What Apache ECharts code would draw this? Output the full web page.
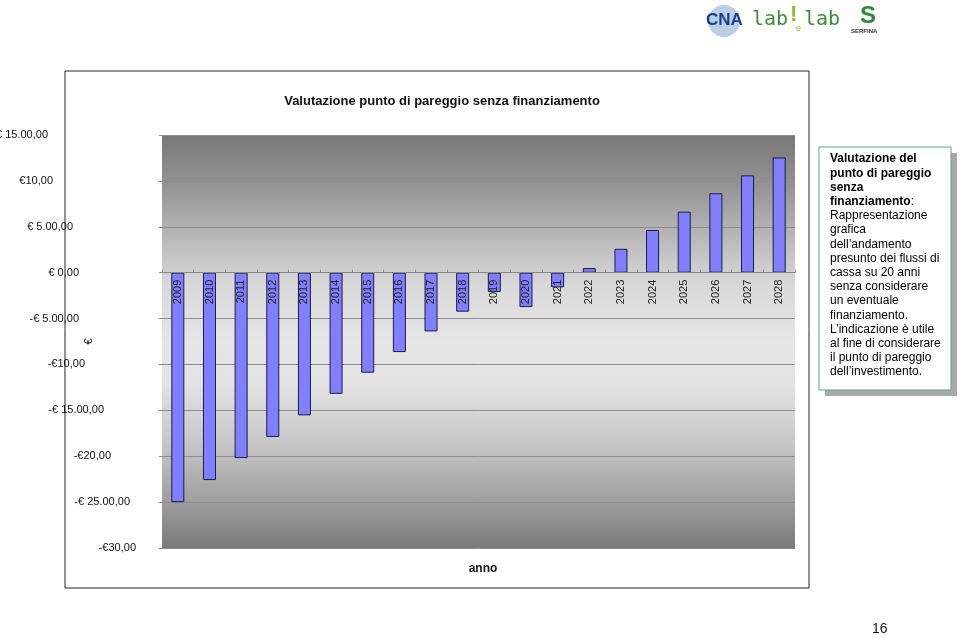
<!DOCTYPE html>
<html>
<head>
<meta charset="utf-8">
<script src="https://cdn.jsdelivr.net/npm/echarts@6/dist/echarts.min.js"></script>
<style>
  html, body { margin: 0; padding: 0; background: #ffffff; }
  #chart { width: 960px; height: 638px; }
</style>
</head>
<body>
<div id="chart"></div>
<script>
// ---- data ----
const years = ['2009','2010','2011','2012','2013','2014','2015','2016','2017','2018',
               '2019','2020','2021','2022','2023','2024','2025','2026','2027','2028'];
const cashFlow = [-25000, -22600, -20200, -17900, -15550, -13200, -10900, -8650, -6400, -4250,
                  -2100, -3750, -1600, 500, 2600, 4650, 6650, 8650, 10600, 12550];
const yTickValues = [-30000, -25000, -20000, -15000, -10000, -5000, 0, 5000, 10000, 15000];
const yTickLabels = ['-€30,00', '-€ 25.00,00', '-€20,00', '-€ 15.00,00', '-€10,00',
                     '-€ 5.00,00', '€ 0,00', '€ 5.00,00', '€10,00', '€ 15.00,00'];
const chartTitle = 'Valutazione punto di pareggio senza finanziamento';
const xName = 'anno';
const yName = '€';

// ---- styling (per-label horizontal offsets as in the reference) ----
const labelPadRight = [26, 32, 51, 58, 77, 83, 83, 89, 109, 114];
const FONT = '"Liberation Sans", Arial, sans-serif';

const rich = {};
labelPadRight.forEach((p, i) => {
  rich['t' + i] = { padding: [0, p, 0, 0], fontSize: 11, color: '#111', fontFamily: FONT };
});

const GRID = { left: 162, right: 165, top: 135, bottom: 90 };

const chart = echarts.init(document.getElementById('chart'), null, { renderer: 'canvas' });

const option = {
  backgroundColor: '#ffffff',
  animation: false,
  textStyle: { fontFamily: FONT },
  title: [
    { text: chartTitle, left: 437, top: 90, textAlign: 'center',
      textStyle: { fontSize: 13, fontWeight: 'bold', color: '#111', fontFamily: FONT } },
    { text: xName, left: 478, top: 558, textAlign: 'center',
      textStyle: { fontSize: 12, fontWeight: 'bold', color: '#111', fontFamily: FONT } }
  ],
  grid: {
    left: GRID.left, right: GRID.right, top: GRID.top, bottom: GRID.bottom,
    containLabel: false,
    outerBoundsMode: 'none',
    show: true, borderWidth: 0,
    backgroundColor: {
      type: 'linear', x: 0, y: 0, x2: 0, y2: 1,
      colorStops: [
        { offset: 0, color: '#787878' },
        { offset: 0.12, color: '#939393' },
        { offset: 0.25, color: '#b9b9b9' },
        { offset: 0.36, color: '#d8d8d8' },
        { offset: 0.5, color: '#e6e6e6' },
        { offset: 0.6, color: '#e3e3e3' },
        { offset: 0.75, color: '#c6c6c6' },
        { offset: 0.88, color: '#a0a0a0' },
        { offset: 1, color: '#7a7a7a' }
      ]
    }
  },
  xAxis: {
    type: 'category',
    data: years,
    z: 5,
    offset: 0,
    axisLine: { show: true, onZero: false, lineStyle: { color: '#8a8a8a', width: 1 } },
    axisTick: { show: true, inside: true, length: 3, interval: 0, lineStyle: { color: '#8a8a8a' } },
    axisLabel: { rotate: 90, margin: 7, fontSize: 11, color: '#222', interval: 0, fontFamily: FONT },
    splitLine: { show: false }
  },
  yAxis: {
    type: 'value',
    min: -30000, max: 15000, interval: 5000,
    name: yName,
    nameLocation: 'middle',
    nameGap: 68,
    nameMoveOverlap: false,
    nameTextStyle: { fontSize: 11, color: '#111', fontFamily: FONT },
    axisLine: { show: false },
    axisTick: { show: true, length: 3, lineStyle: { color: '#8a8a8a' } },
    axisLabel: {
      margin: 0,
      formatter: function (v) {
        const i = yTickValues.indexOf(v);
        return i < 0 ? '' : '{t' + i + '|' + yTickLabels[i] + '}';
      },
      rich: rich
    },
    splitLine: { show: true, lineStyle: { color: '#8c8c8c', width: 1 } }
  },
  series: [{
    type: 'bar',
    data: cashFlow,
    barWidth: 13,
    itemStyle: { color: '#8080ff', borderColor: '#1c1c48', borderWidth: 1 }
  }],
  graphic: [
    { type: 'rect', z: -10, shape: { x: 65, y: 71, width: 744, height: 517 },
      style: { fill: 'none', stroke: '#222', lineWidth: 1 } },
    { type: 'rect', z: 10, shape: { x: 825, y: 153, width: 132, height: 243 },
      style: { fill: '#a8a8a8' } },
    { type: 'rect', z: 11, shape: { x: 819, y: 147, width: 132, height: 243 },
      style: { fill: '#ffffff', stroke: '#5f9f8c', lineWidth: 1 } },
    { type: 'text', z: 12, left: 830, top: 153,
      style: {
        text: '{b|Valutazione del}\n{b|punto di pareggio}\n{b|senza}\n{b|finanziamento}{n|:}\n' +
              '{n|Rappresentazione}\n{n|grafica}\n{n|dell’andamento}\n{n|presunto dei flussi di}\n' +
              '{n|cassa su 20 anni}\n{n|senza considerare}\n{n|un eventuale}\n{n|finanziamento.}\n' +
              '{n|L’indicazione è utile}\n{n|al fine di considerare}\n{n|il punto di pareggio}\n{n|dell’investimento.}',
        rich: {
          b: { fontSize: 12, fontWeight: 'bold', color: '#111', lineHeight: 14.2, fontFamily: FONT },
          n: { fontSize: 12, color: '#111', lineHeight: 14.2, fontFamily: FONT }
        }
      }
    },
    { type: 'text', left: 872, top: 622,
      style: { text: '16', fontSize: 14, fill: '#111', fontFamily: FONT } },
    { type: 'circle', shape: { cx: 724, cy: 21, r: 16 }, style: { fill: '#b9cfe4' } },
    { type: 'text', left: 706, top: 12,
      style: { text: 'CNA', fontSize: 17, fontWeight: 'bold', fill: '#1d3f8f', fontFamily: FONT } },
    { type: 'text', left: 752, top: 10,
      style: { text: 'lab', fontSize: 20, fill: '#3d8c35', fontFamily: '"DejaVu Sans Mono", monospace' } },
    { type: 'text', left: 790, top: 4,
      style: { text: '!', fontSize: 22, fontWeight: 'bold', fill: '#8cbf26', fontFamily: FONT } },
    { type: 'text', left: 796, top: 24,
      style: { text: 'e', fontSize: 9, fill: '#8cbf26', fontFamily: FONT } },
    { type: 'text', left: 804, top: 10,
      style: { text: 'lab', fontSize: 20, fill: '#3d8c35', fontFamily: '"DejaVu Sans Mono", monospace' } },
    { type: 'text', left: 860, top: 4,
      style: { text: 'S', fontSize: 24, fontWeight: 'bold', fill: '#2e8a3c', fontFamily: FONT } },
    { type: 'text', left: 851, top: 28,
      style: { text: 'SERFINA', fontSize: 6, fontWeight: 'bold', fill: '#333', fontFamily: FONT } }
  ]
};

chart.setOption(option);

// Move the category axis up to the value-axis zero line (position taken from the library's own scale).
const zeroY = chart.convertToPixel({ yAxisIndex: 0 }, 0);
const bottomY = 638 - GRID.bottom;
chart.setOption({ xAxis: { offset: zeroY - bottomY } });
</script>
</body>
</html>
